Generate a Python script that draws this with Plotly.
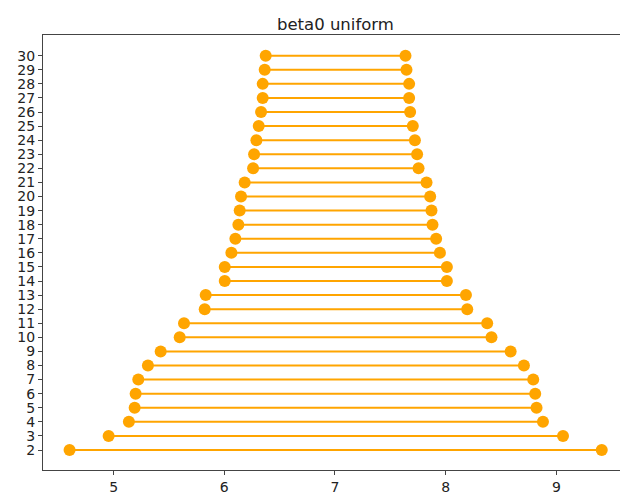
import plotly.graph_objects as go

categories = list(range(2, 31))
low_values = [4.602, 4.955, 5.138, 5.190, 5.199, 5.223, 5.310, 5.425, 5.597, 5.636,
              5.823, 5.832, 6.004, 6.004, 6.064, 6.100, 6.127, 6.139, 6.151, 6.184,
              6.260, 6.269, 6.290, 6.311, 6.332, 6.347, 6.347, 6.365, 6.374]
high_values = [9.410, 9.060, 8.879, 8.821, 8.809, 8.791, 8.707, 8.587, 8.414, 8.375,
               8.195, 8.183, 8.011, 8.011, 7.948, 7.914, 7.881, 7.872, 7.860, 7.827,
               7.755, 7.742, 7.722, 7.703, 7.679, 7.670, 7.670, 7.646, 7.637]
title_text = "beta0 uniform"
color = "#FFA500"

xs, ys = [], []
for c, lo, hi in zip(categories, low_values, high_values):
    xs += [lo, hi, None]
    ys += [c, c, None]

fig = go.Figure()
fig.add_trace(go.Scatter(x=xs, y=ys, mode="lines",
                         line=dict(color=color, width=2), hoverinfo="skip",
                         showlegend=False))
fig.add_trace(go.Scatter(x=low_values, y=categories, mode="markers",
                         marker=dict(color=color, size=12), showlegend=False))
fig.add_trace(go.Scatter(x=high_values, y=categories, mode="markers",
                         marker=dict(color=color, size=12), showlegend=False))

axis_font = dict(family="DejaVu Sans", size=14, color="#222")
fig.update_layout(
    width=620, height=496,
    margin=dict(l=43, r=0, t=35, b=26),
    paper_bgcolor="white", plot_bgcolor="white",
    title=dict(text=title_text, x=0.541, xanchor="center", y=0.951, yanchor="middle",
               font=dict(family="DejaVu Sans", size=16.5, color="#222")),
    xaxis=dict(range=[4.362, 9.575], tickvals=[5, 6, 7, 8, 9], ticktext=["5", "6", "7", "8", "9"],
               showgrid=False, zeroline=False, showline=True, linecolor="#444", linewidth=1,
               mirror=True, ticks="outside", ticklen=4, tickcolor="#444",
               tickfont=axis_font),
    yaxis=dict(range=[0.58, 31.47], tickvals=categories, ticktext=[str(c) for c in categories],
               showgrid=False, zeroline=False, showline=True, linecolor="#444", linewidth=1,
               ticks="outside", ticklen=4, tickcolor="#444", tickfont=axis_font),
)

fig.write_html("out.html", config={"displayModeBar": False},
               post_script="document.body.style.margin='0';document.body.style.overflow='hidden';")
